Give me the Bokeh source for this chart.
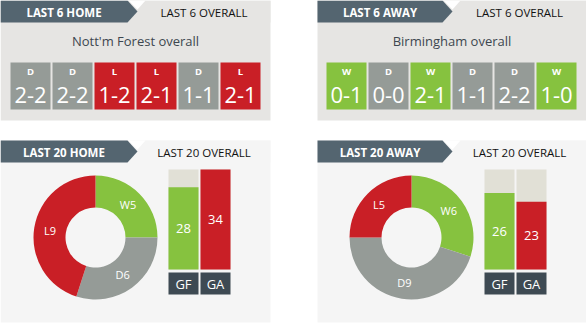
import math
from bokeh.plotting import figure
from bokeh.models import Range1d
from bokeh.core.properties import value
from bokeh.embed import file_html
from bokeh.resources import INLINE

# ---------------- data ----------------
teams = ["Nott'm Forest", "Birmingham"]
tab6_labels = ["LAST 6 HOME", "LAST 6 AWAY"]
tab20_labels = ["LAST 20 HOME", "LAST 20 AWAY"]
overall6_label = "LAST 6 OVERALL"
overall20_label = "LAST 20 OVERALL"

home_results = ["D", "D", "L", "L", "D", "L"]
home_scores = ["2-2", "2-2", "1-2", "2-1", "1-1", "2-1"]
away_results = ["W", "D", "W", "D", "D", "W"]
away_scores = ["0-1", "0-0", "2-1", "1-1", "2-2", "1-0"]

wdl_labels = ["W", "D", "L"]
home_wdl = [5, 6, 9]
away_wdl = [6, 9, 5]

goal_labels = ["GF", "GA"]
home_goals = [28, 34]
away_goals = [26, 23]

# ---------------- style ----------------
GREEN = "#86c23f"
RED = "#c91f26"
GREY = "#959b97"
BEIGE = "#e1e0d6"
TAB = "#546570"
LABELBOX = "#3e4a53"
PANEL_TOP = "#e6e5e3"
PANEL_BOT = "#f5f5f5"
TITLE_COL = "#3d4750"
RES_COL = {"W": GREEN, "D": GREY, "L": RED}
FONT = "Open Sans"

W, H = 586, 324


def Y(py):
    return H - py


p = figure(width=W, height=H, x_range=Range1d(0, W), y_range=Range1d(0, H),
           output_backend="svg", toolbar_location=None, min_border=0,
           x_axis_location=None, y_axis_location=None)
p.grid.visible = False
p.outline_line_color = None
p.background_fill_color = "white"
p.border_fill_color = "white"

panel_x = [(0, 270), (317, 586)]
tab_end = [127, 442]


def text(x, y, t, size, color="white", style="normal", align="center"):
    p.text(x=[x], y=[Y(y)], text=[t], text_font=value(FONT), text_font_size=f"{size}px",
           text_color=color, text_font_style=style, text_align=align, text_baseline="middle")


def header(side, y0, label, overall_label, bg):
    x0, x1 = panel_x[side]
    te = tab_end[side]
    p.quad(left=[x0], right=[x1], top=[Y(y0)], bottom=[Y(y0 + 22)], fill_color=bg, line_color=None)
    p.patch(x=[x0, te, te + 10, te, x0], y=[Y(y0), Y(y0), Y(y0 + 11), Y(y0 + 22), Y(y0 + 22)],
            fill_color=TAB, line_color=None)
    p.patch(x=[te + 1, te + 18, te + 10], y=[Y(y0), Y(y0), Y(y0 + 9)], fill_color="white", line_color=None)
    text((x0 + te) / 2, y0 + 11.5, label, 11.5, "white", "bold")
    text((te + 10 + x1) / 2, y0 + 11.5, overall_label, 11.5, "#111111", "normal")


# ---------------- last 6 panels ----------------
for side, (results, scores) in enumerate([(home_results, home_scores), (away_results, away_scores)]):
    x0, x1 = panel_x[side]
    p.quad(left=[x0], right=[x1], top=[Y(0)], bottom=[Y(120)], fill_color=PANEL_TOP, line_color=None)
    header(side, 0, tab6_labels[side], overall6_label, PANEL_TOP)
    text((x0 + x1) / 2, 40, teams[side] + " overall", 13, TITLE_COL)
    bx0 = x0 + 10 if side == 0 else x0 + 9
    lefts = [bx0 + 42 * i for i in range(len(results))]
    p.quad(left=lefts, right=[l + 40 for l in lefts], top=[Y(62)] * len(results),
           bottom=[Y(109)] * len(results), fill_color=[RES_COL[r] for r in results], line_color=None)
    for l, r, s in zip(lefts, results, scores):
        text(l + 20, 71, r, 9.5, "white", "bold")
        text(l + 20, 94, s, 22, "white")

# ---------------- last 20 panels ----------------
all_goals = home_goals + away_goals
gmax = max(all_goals)
donut_cx = [95, 411]
bar_x = [168, 484]
for side, (wdl, goals) in enumerate([(home_wdl, home_goals), (away_wdl, away_goals)]):
    x0, x1 = panel_x[side]
    p.quad(left=[x0], right=[x1], top=[Y(140)], bottom=[Y(322)], fill_color=PANEL_BOT, line_color=None)
    header(side, 140, tab20_labels[side], overall20_label, PANEL_BOT)

    # donut
    cx, cy = donut_cx[side], 237
    total = sum(wdl)
    cum = 0
    starts, ends, cols = [], [], []
    for lab, v in zip(wdl_labels, wdl):
        a0 = math.pi / 2 - 2 * math.pi * cum / total
        a1 = math.pi / 2 - 2 * math.pi * (cum + v) / total
        starts.append(a0)
        ends.append(a1)
        cols.append(RES_COL[lab])
        mid = (a0 + a1) / 2
        cum += v
    p.annular_wedge(x=[cx] * 3, y=[Y(cy)] * 3, inner_radius=30, outer_radius=62,
                    start_angle=starts, end_angle=ends, direction="clock",
                    fill_color=cols, line_color=None)
    for lab, v, a0, a1 in zip(wdl_labels, wdl, starts, ends):
        mid = (a0 + a1) / 2
        text(cx + 46 * math.cos(mid), cy - 46 * math.sin(mid), f"{lab}{v}", 11, "white")

    # goal bars
    for j, (g, lab) in enumerate(zip(goals, goal_labels)):
        l = bar_x[side] + 32 * j
        col = GREEN if lab == "GF" else RED
        h = 100 * g / gmax
        p.quad(left=[l], right=[l + 30], top=[Y(169)], bottom=[Y(269)], fill_color=BEIGE, line_color=None)
        p.quad(left=[l], right=[l + 30], top=[Y(269 - h)], bottom=[Y(269)], fill_color=col, line_color=None)
        text(l + 15, 269 - h / 2, str(g), 13, "white")
        p.quad(left=[l], right=[l + 30], top=[Y(272)], bottom=[Y(294)], fill_color=LABELBOX, line_color=None)
        text(l + 15, 283, lab, 13, "white")

open("out.html", "w").write(file_html(p, INLINE))
